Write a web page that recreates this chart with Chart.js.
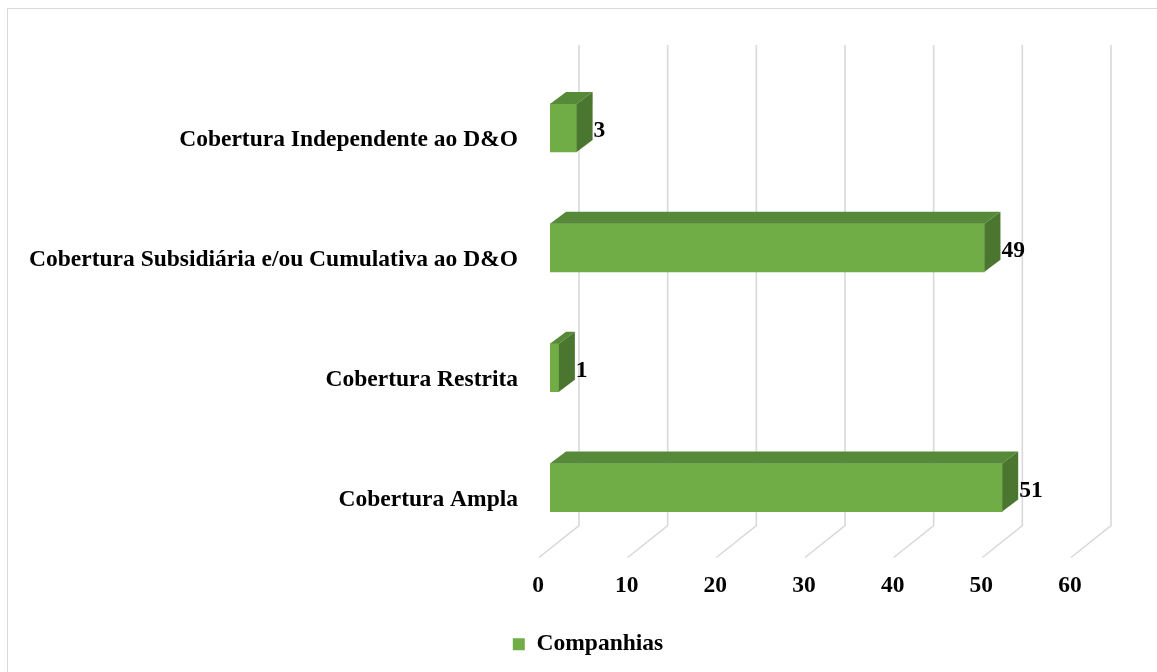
<!DOCTYPE html>
<html>
<head>
<meta charset="utf-8">
<script src="https://cdn.jsdelivr.net/npm/chart.js@4.4.0/dist/chart.umd.min.js"></script>
<style>
  html, body { margin: 0; padding: 0; background: #fff; }
  #wrap { width: 1157px; height: 672px; position: relative; }
</style>
</head>
<body>
<div id="wrap"><canvas id="chart"></canvas></div>
<script>
// data
const categories = [
  "Cobertura Independente ao D&O",
  "Cobertura Subsidiária e/ou Cumulativa ao D&O",
  "Cobertura Restrita",
  "Cobertura Ampla"
];
const companhias = [3, 49, 1, 51];
const xMin = 0;
const xMax = 60;
const xStep = 10;

const FONT = "'Liberation Serif', 'Times New Roman', serif";
const FONT_SIZE = 23.5;
const GREEN = "#70ad47";
const GREEN_TOP = "#578a38";
const GREEN_SIDE = "#4a762f";
const GRID = "#d9d9d9";

// 3D look: bar depth and back wall / floor offsets (px)
const DX = 16, DY = 12;
const WALL_DX = 29;
const FLOOR_DX = -11;

const fake3d = {
  id: "fake3d",
  afterLayout(chart) {
    // legend is centred on the whole frame, not on the padded area
    chart.legend.left += 47;
    chart.legend.right += 47;
  },
  beforeDraw(chart) {
    const ctx = chart.ctx;
    ctx.save();
    ctx.strokeStyle = GRID;
    ctx.lineWidth = 1;
    ctx.strokeRect(7.5, 8.5, chart.width + 10, chart.height + 10); // outer frame
    ctx.restore();
  },
  beforeDatasetsDraw(chart) {
    const { ctx, chartArea, scales } = chart;
    const xs = scales.x;
    const wallTop = chartArea.top - 23;
    const wallBottom = chartArea.bottom - 22;
    const floorFront = chartArea.bottom + 10;
    ctx.save();
    ctx.strokeStyle = GRID;
    ctx.lineWidth = 1.6;
    xs.ticks.forEach(t => {
      const px = xs.getPixelForValue(t.value);
      ctx.beginPath();
      ctx.moveTo(px + WALL_DX, wallTop);
      ctx.lineTo(px + WALL_DX, wallBottom);
      ctx.lineTo(px + FLOOR_DX, floorFront);
      ctx.stroke();
    });
    ctx.restore();
  },
  afterDatasetsDraw(chart) {
    const ctx = chart.ctx;
    const meta = chart.getDatasetMeta(0);
    ctx.save();
    meta.data.forEach((bar, i) => {
      const { x, y, base, height } = bar.getProps(["x", "y", "base", "height"], true);
      const top = y - height / 2, bottom = y + height / 2;
      // top face
      ctx.fillStyle = GREEN_TOP;
      ctx.beginPath();
      ctx.moveTo(base, top);
      ctx.lineTo(x, top);
      ctx.lineTo(x + DX, top - DY);
      ctx.lineTo(base + DX, top - DY);
      ctx.closePath();
      ctx.fill();
      // right face
      ctx.fillStyle = GREEN_SIDE;
      ctx.beginPath();
      ctx.moveTo(x, top);
      ctx.lineTo(x + DX, top - DY);
      ctx.lineTo(x + DX, bottom - DY);
      ctx.lineTo(x, bottom);
      ctx.closePath();
      ctx.fill();
      // value label
      ctx.fillStyle = "#000";
      ctx.font = "bold " + FONT_SIZE + "px " + FONT;
      ctx.textAlign = "left";
      ctx.textBaseline = "middle";
      ctx.fillText(String(companhias[i]), x + DX + 1, y + 3);
    });
    ctx.restore();
  }
};

new Chart(document.getElementById("chart"), {
  type: "bar",
  data: {
    labels: categories,
    datasets: [{
      label: "Companhias",
      data: companhias,
      backgroundColor: GREEN,
      borderWidth: 0,
      barThickness: 48
    }]
  },
  options: {
    indexAxis: "y",
    responsive: true,
    maintainAspectRatio: false,
    animation: false,
    events: [],
    layout: { padding: { top: 68, right: 75, bottom: 6, left: 0 } },
    scales: {
      x: {
        min: xMin,
        max: xMax,
        grid: { display: false },
        border: { display: false },
        ticks: {
          stepSize: xStep,
          color: "#000",
          font: { family: FONT, size: FONT_SIZE, weight: "bold" },
          labelOffset: -12,
          padding: 16
        },
        afterFit: s => { s.height = 75; }
      },
      y: {
        grid: { display: false },
        border: { display: false },
        ticks: {
          color: "#000",
          font: { family: FONT, size: FONT_SIZE, weight: "bold" },
          labelOffset: 12,
          padding: 24
        },
        afterFit: s => { s.width = 550; }
      }
    },
    plugins: {
      legend: {
        position: "bottom",
        labels: {
          color: "#000",
          font: { family: FONT, size: FONT_SIZE, weight: "bold" },
          boxWidth: 12,
          boxHeight: 12,
          padding: 10
        }
      },
      tooltip: { enabled: false }
    }
  },
  plugins: [fake3d]
});
</script>
</body>
</html>
